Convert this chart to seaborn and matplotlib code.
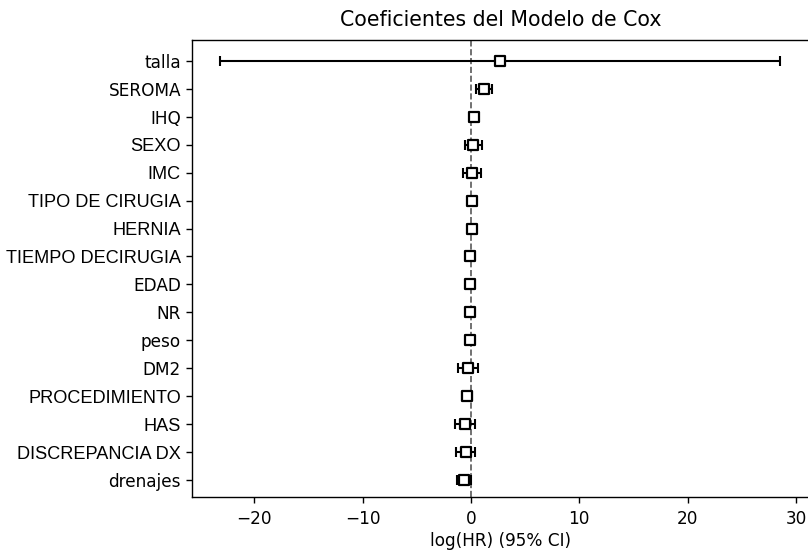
import numpy as np
import pandas as pd
import matplotlib
matplotlib.use("Agg")
import matplotlib.pyplot as plt
import seaborn as sns

# Cox model coefficients (log HR) with 95% CI, top row first
variables = ['talla', 'SEROMA', 'IHQ', 'SEXO', 'IMC', 'TIPO DE CIRUGIA', 'HERNIA',
             'TIEMPO DECIRUGIA', 'EDAD', 'NR', 'peso', 'DM2', 'PROCEDIMIENTO',
             'HAS', 'DISCREPANCIA DX', 'drenajes']
coef = [2.65, 1.2, 0.3, 0.2, 0.1, 0.1, 0.05, -0.05, -0.05, -0.05, -0.05,
        -0.28, -0.4, -0.55, -0.5, -0.65]
lower = [-23.2, 0.5, 0.1, -0.6, -0.7, -0.05, -0.1, -0.1, -0.1, -0.1, -0.1,
         -1.17, -0.85, -1.45, -1.4, -1.3]
upper = [28.5, 1.95, 0.5, 1.0, 0.9, 0.25, 0.2, 0.0, 0.0, 0.0, 0.0,
         0.61, 0.05, 0.35, 0.4, 0.0]

# labels that show in an Arial-like face in the original
arial_labels = {'SEXO', 'IMC', 'TIPO DE CIRUGIA', 'HERNIA', 'TIEMPO DECIRUGIA',
                'PROCEDIMIENTO', 'HAS', 'DISCREPANCIA DX'}

df = pd.DataFrame({'var': variables, 'coef': coef, 'lower': lower, 'upper': upper})
df['y'] = np.arange(len(df))[::-1]

sns.set_style('ticks')
plt.rcParams['font.family'] = ['DejaVu Sans']
plt.rcParams['text.color'] = 'k'
plt.rcParams['axes.labelcolor'] = 'k'

fig = plt.figure(figsize=(8.08, 5.51), dpi=100)
ax = fig.add_axes([192 / 808, 54 / 551, 617 / 808, 457 / 551])

xerr = np.vstack([df['coef'] - df['lower'], df['upper'] - df['coef']])
ax.errorbar(df['coef'], df['y'], xerr=xerr, fmt='none', ecolor='k',
            elinewidth=1.5, capsize=3.6, capthick=1.5, zorder=2)
sns.scatterplot(data=df, x='coef', y='y', marker='s', s=56, color='white',
                edgecolor='k', linewidth=1.6, ax=ax, zorder=3)
ax.axvline(0, ls='--', color='k', alpha=0.65, lw=1.2, zorder=1)

ax.set_yticks(df['y'])
ax.set_yticklabels(df['var'])
for lab in ax.get_yticklabels():
    if lab.get_text() in arial_labels:
        lab.set_fontfamily('Liberation Sans')
        lab.set_fontsize(13.1)
    else:
        lab.set_fontsize(12.2)
ax.set_ylim(-0.61, 15.75)
ax.set_xlim(-25.76, 31.2)
ax.set_xticks([-20, -10, 0, 10, 20, 30])
ax.tick_params(axis='x', labelsize=12.2, pad=5)
ax.tick_params(length=4.5, width=1, colors='k')
for s in ax.spines.values():
    s.set_visible(True)
    s.set_color('k')
    s.set_linewidth(1)
ax.set_xlabel('log(HR) (95% CI)', fontsize=12.2, labelpad=3)
ax.set_ylabel('')
ax.set_title('Coeficientes del Modelo de Cox', fontsize=14.8, pad=10)

fig.savefig('out.png', dpi=100)
